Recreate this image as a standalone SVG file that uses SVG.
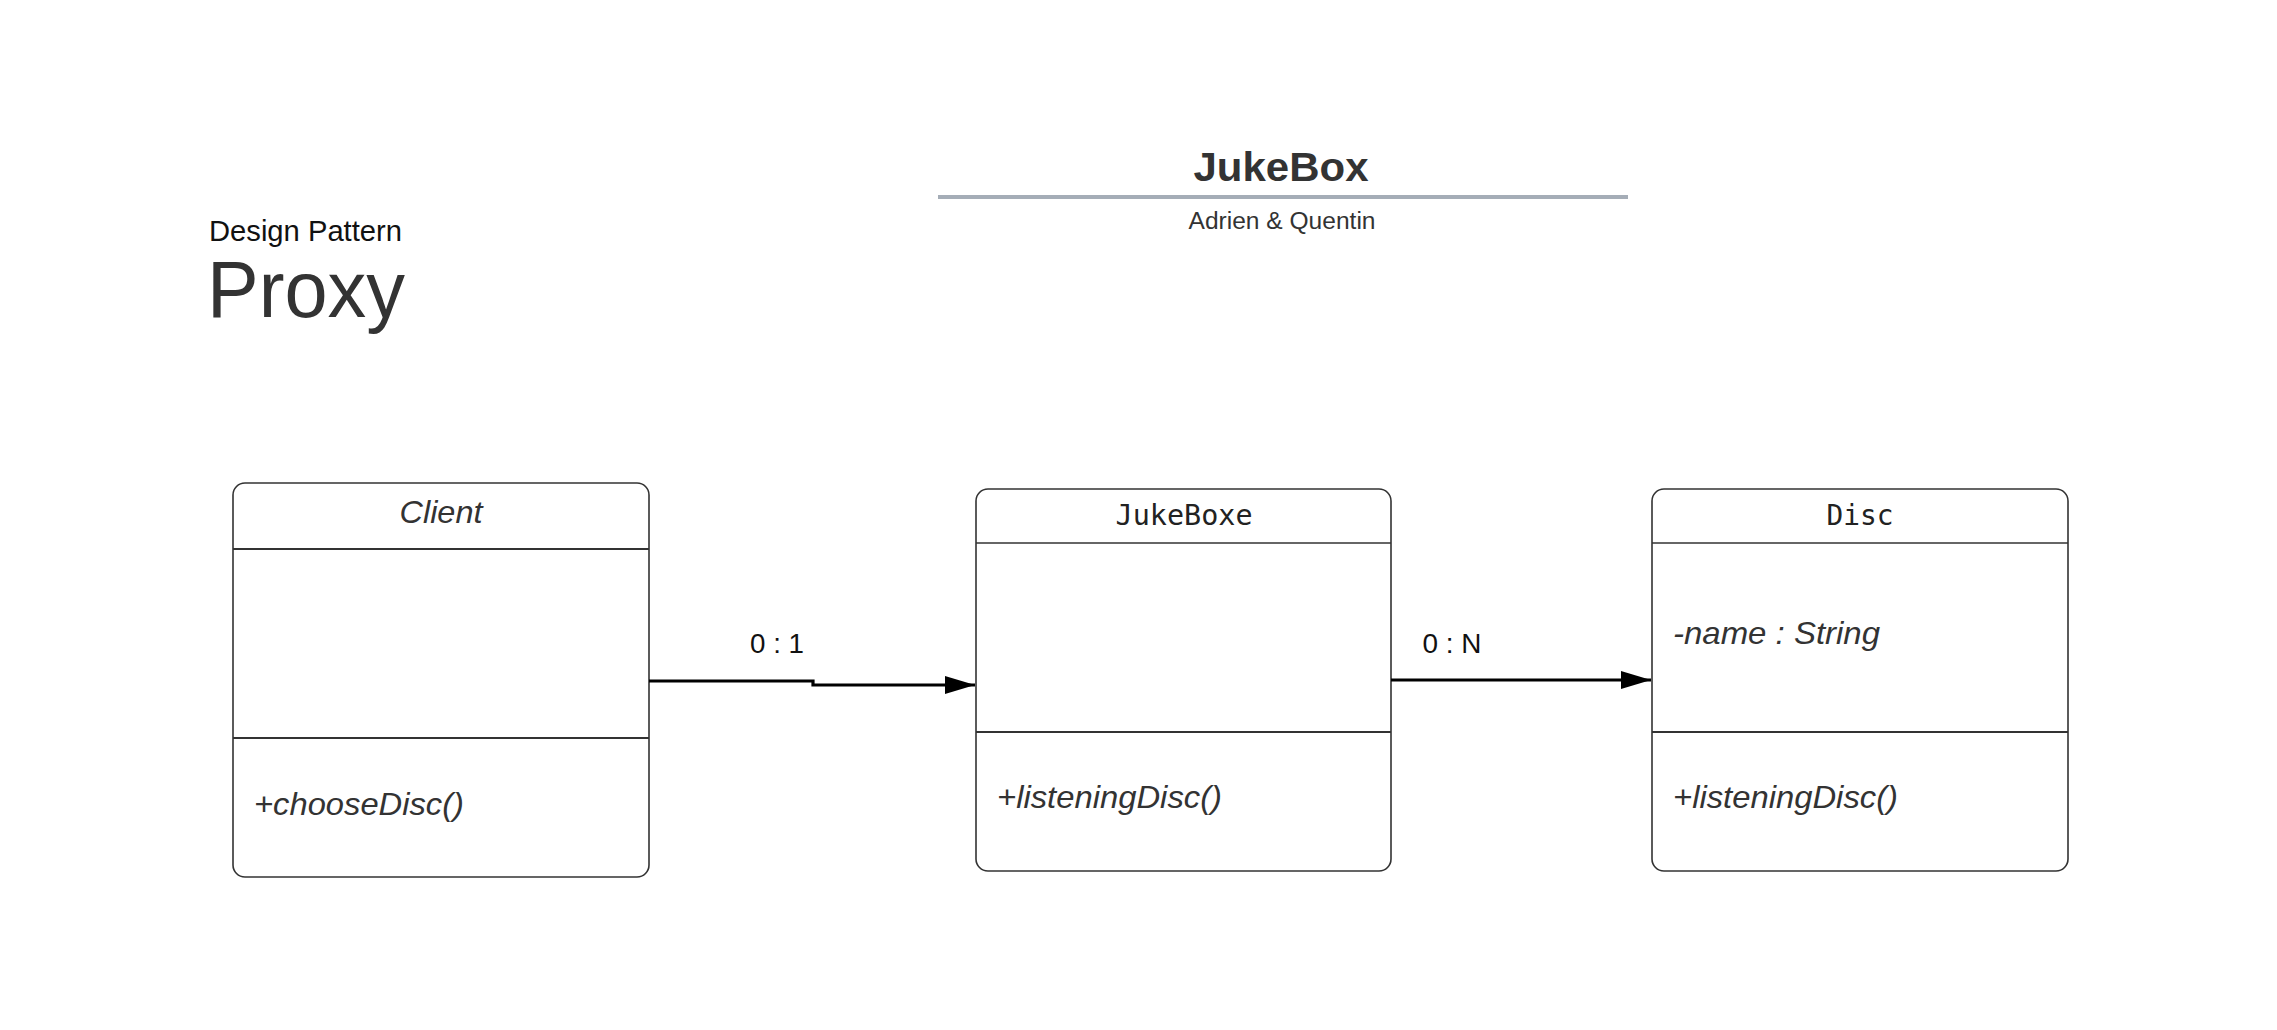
<svg xmlns="http://www.w3.org/2000/svg" width="2277" height="1030" viewBox="0 0 2277 1030">
  <style>
    .box { fill: #ffffff; stroke: #333333; stroke-width: 1.6; }
    .div-thin { stroke: #333333; stroke-width: 1.3; }
    .div-thick { stroke: #333333; stroke-width: 2.2; }
    .sans { font-family: "Liberation Sans", Arial, sans-serif; fill: #333333; }
    .ital { font-family: "Liberation Sans", Arial, sans-serif; font-style: italic; fill: #333333; font-size: 32px; }
    .mono { font-family: "DejaVu Sans Mono", "Liberation Mono", monospace; fill: #222222; font-size: 28px; }
    .conn { fill: none; stroke: #000000; stroke-width: 3.2; }
    .lbl { font-family: "Liberation Sans", Arial, sans-serif; fill: #111111; font-size: 27px; }
  </style>
  <defs>
    <marker id="arrow" markerUnits="userSpaceOnUse" markerWidth="31" markerHeight="19" refX="30" refY="9" orient="auto">
      <path d="M0,0 L30,9 L0,18 Z" fill="#000000"/>
    </marker>
  </defs>
  <rect x="0" y="0" width="2277" height="1030" fill="#ffffff"/>

  <g id="title">
    <text class="sans" x="1281" y="181" font-size="41" font-weight="bold" text-anchor="middle" textLength="175" lengthAdjust="spacingAndGlyphs">JukeBox</text>
    <line x1="938" y1="197" x2="1628" y2="197" stroke="#a5adb7" stroke-width="4"/>
    <text class="sans" x="1282" y="229" font-size="23" text-anchor="middle" textLength="187" lengthAdjust="spacingAndGlyphs">Adrien &amp; Quentin</text>
  </g>

  <g id="pattern-label">
    <text class="sans" x="209" y="241" font-size="29" style="fill:#111111" textLength="193" lengthAdjust="spacingAndGlyphs">Design Pattern</text>
    <text class="sans" x="207" y="317" font-size="80" textLength="198" lengthAdjust="spacingAndGlyphs">Proxy</text>
  </g>

  <g id="client">
    <rect class="box" x="233" y="483" width="416" height="394" rx="12" ry="12"/>
    <line class="div-thick" x1="233" y1="549" x2="649" y2="549"/>
    <line class="div-thick" x1="233" y1="738" x2="649" y2="738"/>
    <text class="ital" x="441" y="523" text-anchor="middle" textLength="83" lengthAdjust="spacingAndGlyphs">Client</text>
    <text class="ital" x="254" y="815" textLength="210" lengthAdjust="spacingAndGlyphs">+chooseDisc()</text>
  </g>

  <g id="jukeboxe">
    <rect class="box" x="976" y="489" width="415" height="382" rx="12" ry="12"/>
    <line class="div-thin" x1="976" y1="543" x2="1391" y2="543"/>
    <line class="div-thick" x1="976" y1="732" x2="1391" y2="732"/>
    <text class="mono" x="1184" y="525" text-anchor="middle" textLength="137" lengthAdjust="spacingAndGlyphs">JukeBoxe</text>
    <text class="ital" x="997" y="808" textLength="225" lengthAdjust="spacingAndGlyphs">+listeningDisc()</text>
  </g>

  <g id="disc">
    <rect class="box" x="1652" y="489" width="416" height="382" rx="12" ry="12"/>
    <line class="div-thin" x1="1652" y1="543" x2="2068" y2="543"/>
    <line class="div-thick" x1="1652" y1="732" x2="2068" y2="732"/>
    <text class="mono" x="1860" y="525" text-anchor="middle" textLength="67" lengthAdjust="spacingAndGlyphs">Disc</text>
    <text class="ital" x="1673" y="644" textLength="207" lengthAdjust="spacingAndGlyphs">-name : String</text>
    <text class="ital" x="1673" y="808" textLength="225" lengthAdjust="spacingAndGlyphs">+listeningDisc()</text>
  </g>

  <g id="connectors">
    <path class="conn" d="M649,681 H813 V685 H975" marker-end="url(#arrow)"/>
    <text class="lbl" x="777" y="653" text-anchor="middle" textLength="54" lengthAdjust="spacingAndGlyphs">0 : 1</text>
    <path class="conn" d="M1391,680 H1651" marker-end="url(#arrow)"/>
    <text class="lbl" x="1452" y="653" text-anchor="middle" textLength="59" lengthAdjust="spacingAndGlyphs">0 : N</text>
  </g>
</svg>
